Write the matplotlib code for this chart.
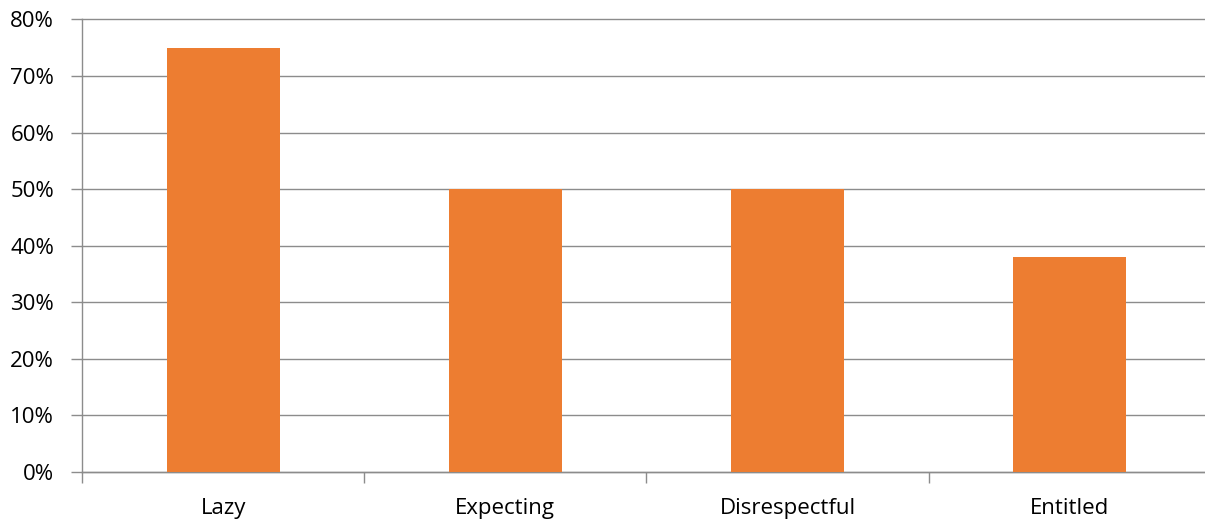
import matplotlib
matplotlib.use("Agg")
import matplotlib.pyplot as plt
from matplotlib.ticker import FixedLocator, PercentFormatter

categories = ["Lazy", "Expecting", "Disrespectful", "Entitled"]
values = [75, 50, 50, 38]
y_ticks = [0, 10, 20, 30, 40, 50, 60, 70, 80]

plt.rcParams['font.family'] = ['Open Sans', 'DejaVu Sans']

W, H = 1205, 523
fig = plt.figure(figsize=(W/100, H/100), dpi=100)
left, right, top, bottom = 82, 1210.7, 19.5, 471.6
ax = fig.add_axes([left/W, 1-bottom/H, (right-left)/W, (bottom-top)/H])

x = list(range(len(categories)))
ax.bar(x, values, width=0.4, color="#ED7D31", zorder=3)

ax.set_xlim(-0.5, len(categories)-0.5)
ax.set_ylim(0, 80)
ax.set_yticks(y_ticks)
ax.yaxis.set_major_formatter(PercentFormatter(decimals=0))
ax.grid(axis='y', color="#8c8c8c", linewidth=1.0, zorder=0)
for gl in ax.get_ygridlines():
    gl.set_clip_on(False)

ax.set_xticks(x)
ax.set_xticklabels(categories)
ax.xaxis.set_minor_locator(FixedLocator([i - 0.5 for i in range(len(categories)+1)]))
ax.tick_params(axis='x', which='major', length=0, pad=19, labelsize=16, labelcolor="#000000")
ax.tick_params(axis='x', which='minor', length=8, color="#8c8c8c", width=1)
ax.tick_params(axis='y', which='major', length=8, color="#8c8c8c", width=1, pad=12, labelsize=16)

for s in ['top', 'right']:
    ax.spines[s].set_visible(False)
for s in ['left', 'bottom']:
    ax.spines[s].set_color("#8c8c8c")
    ax.spines[s].set_linewidth(1)

fig.savefig("out.png", dpi=100)
